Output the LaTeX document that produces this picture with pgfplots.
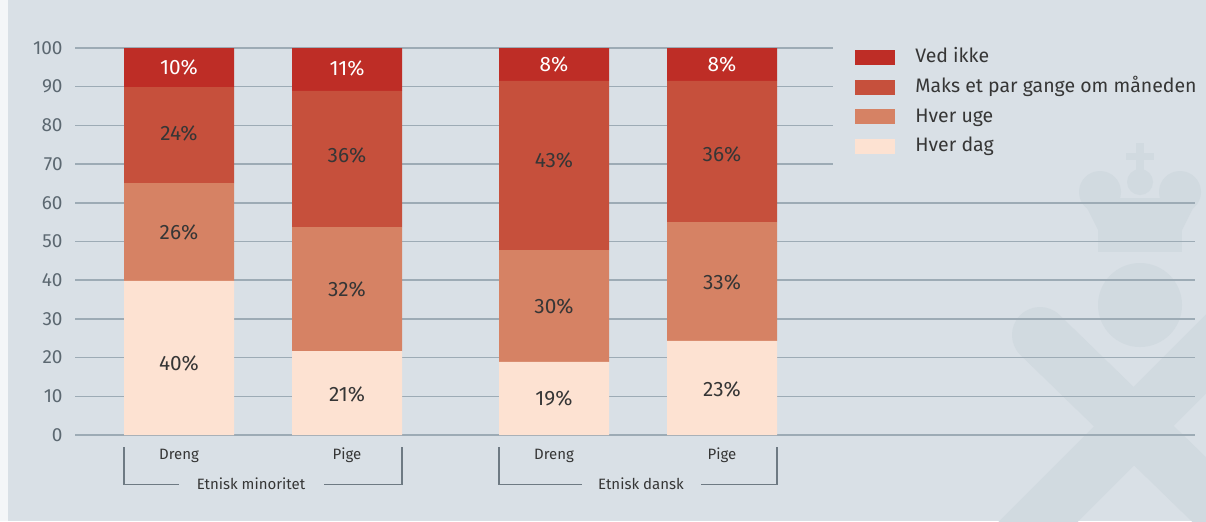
\documentclass[border=0pt]{standalone}
\usepackage{fontspec}
\setmainfont{Fira Sans}
\usepackage{pgfplots}
\pgfplotsset{compat=1.18}

\definecolor{bgc}{HTML}{D9E0E6}
\definecolor{wm}{HTML}{D1DAE0}
\definecolor{gridc}{HTML}{9DABB5}
\definecolor{vedikke}{HTML}{BE2D26}
\definecolor{maks}{HTML}{C6503C}
\definecolor{uge}{HTML}{D68264}
\definecolor{dag}{HTML}{FDE2D2}
\definecolor{tickc}{HTML}{5C6871}
\definecolor{txt}{HTML}{363636}
\definecolor{brk}{HTML}{6E7A83}

\tikzset{
  vl/.style={font=\fontsize{10.4}{11}\selectfont, text=txt},
  vw/.style={font=\fontsize{10.4}{11}\selectfont, text=white},
  cl/.style={font=\fontsize{7.5}{8}\selectfont, text=txt},
}

\begin{document}
\begin{tikzpicture}
% background and grid, in pixel units of the reference (origin top left)
\begin{scope}[x=0.5pt,y=-0.5pt]
\path[use as bounding box] (0,0) rectangle (1206,521);
\fill[bgc] (0,0) rectangle (1206,521);
\fill[white!70!bgc] (0,0) rectangle (8,521);
% faint watermark
\begin{scope}
\clip (8,0) rectangle (1206,521);
\fill[wm] (1140,305) circle (42);
\draw[wm, line width=28pt, line cap=round] (1040,335) -- (1215,505);
\draw[wm, line width=28pt, line cap=round] (1225,335) -- (1010,550);
\fill[wm] (1136,143) rectangle (1144,172);
\fill[wm] (1126,153) rectangle (1154,160);
\fill[wm] (1098,228) rectangle (1182,252);
\fill[wm] (1100,192) circle (21);
\fill[wm] (1180,192) circle (21);
\fill[wm] (1140,182) circle (13);
\fill[wm] (1082,198) -- (1198,198) -- (1182,230) -- (1098,230) -- cycle;
\end{scope}
% grid lines (0..60 full width, 70..100 stop before the legend)
\foreach \k in {0,1,...,6} \draw[gridc, line width=0.75pt] (75,435-3.87*\k*10) -- (1195,435-3.87*\k*10);
\foreach \k in {7,8,9,10} \draw[gridc, line width=0.75pt] (75,435-3.87*\k*10) -- (833,435-3.87*\k*10);
\end{scope}

\begin{axis}[
    at={(37.5pt,-217.5pt)}, anchor=south west,
    scale only axis,
    width=560pt, height=193.5pt,
    xmin=75, xmax=1195,
    ymin=0, ymax=100,
    clip=false,
    axis line style={draw=none},
    major tick style={draw=none},
    xtick=\empty,
    ytick={0,10,...,100},
    /pgf/number format/assume math mode=true,
    yticklabel style={font=\fontsize{9.5}{10}\selectfont, text=tickc, inner xsep=0pt, xshift=-6pt},
    ybar stacked,
    bar width=110,
    legend style={at={(axis cs:855,100.1)}, anchor=north west, draw=none, fill=none,
        inner sep=0pt, row sep=5.7pt, font=\fontsize{9.75}{11}\selectfont, text=txt,
        nodes={inner sep=0pt, text height=7.2pt, text depth=2pt},
        /tikz/every odd column/.append style={column sep=10pt}},
    legend cell align=left,
    legend image code/.code={\fill[#1] (0pt,-3.75pt) rectangle (20pt,3.75pt);},
    reverse legend,
]
% Hver dag
\addplot[fill=dag, draw=none] coordinates {(179,39.8) (347,21.7) (554,18.9) (722,24.3)};
% Hver uge
\addplot[fill=uge, draw=none] coordinates {(179,25.3) (347,32.0) (554,28.9) (722,30.7)};
% Maks et par gange om maaneden
\addplot[fill=maks, draw=none] coordinates {(179,24.8) (347,35.2) (554,43.7) (722,36.5)};
% Ved ikke
\addplot[fill=vedikke, draw=none] coordinates {(179,10.1) (347,11.1) (554,8.5) (722,8.5)};
\legend{Hver dag, Hver uge, Maks et par gange om måneden, Ved ikke}

% category labels and group brackets
\node[cl] at (axis cs:179,-5.3) {Dreng};
\node[cl] at (axis cs:347,-5.3) {Pige};
\node[cl] at (axis cs:554,-5.3) {Dreng};
\node[cl] at (axis cs:722,-5.3) {Pige};
\node[cl] at (axis cs:251,-12.7) {Etnisk minoritet};
\node[cl] at (axis cs:641,-12.7) {Etnisk dansk};
\draw[brk, line width=0.6pt] (axis cs:124,-3.1) -- (axis cs:124,-12.7) -- (axis cs:179,-12.7);
\draw[brk, line width=0.6pt] (axis cs:324,-12.7) -- (axis cs:402,-12.7) -- (axis cs:402,-3.1);
\draw[brk, line width=0.6pt] (axis cs:499,-3.1) -- (axis cs:499,-12.7) -- (axis cs:582,-12.7);
\draw[brk, line width=0.6pt] (axis cs:701,-12.7) -- (axis cs:777,-12.7) -- (axis cs:777,-3.1);
\end{axis}

% value labels on top of the stacked bars (x in px, y from the value scale)
\begin{scope}[x=0.5pt,y=1.935pt,shift={(37.5pt,-217.5pt)}]
\node[vl] at (179-75,18.5) {40\%};
\node[vl] at (179-75,52.4) {26\%};
\node[vl] at (179-75,77.8) {24\%};
\node[vw] at (179-75,94.9) {10\%};
\node[vl] at (347-75,10.5) {21\%};
\node[vl] at (347-75,37.7) {32\%};
\node[vl] at (347-75,72.3) {36\%};
\node[vw] at (347-75,94.6) {11\%};
\node[vl] at (554-75,9.4) {19\%};
\node[vl] at (554-75,33.2) {30\%};
\node[vl] at (554-75,71.0) {43\%};
\node[vw] at (554-75,95.8) {8\%};
\node[vl] at (722-75,11.8) {23\%};
\node[vl] at (722-75,39.3) {33\%};
\node[vl] at (722-75,72.6) {36\%};
\node[vw] at (722-75,95.8) {8\%};
\end{scope}
\end{tikzpicture}
\end{document}
